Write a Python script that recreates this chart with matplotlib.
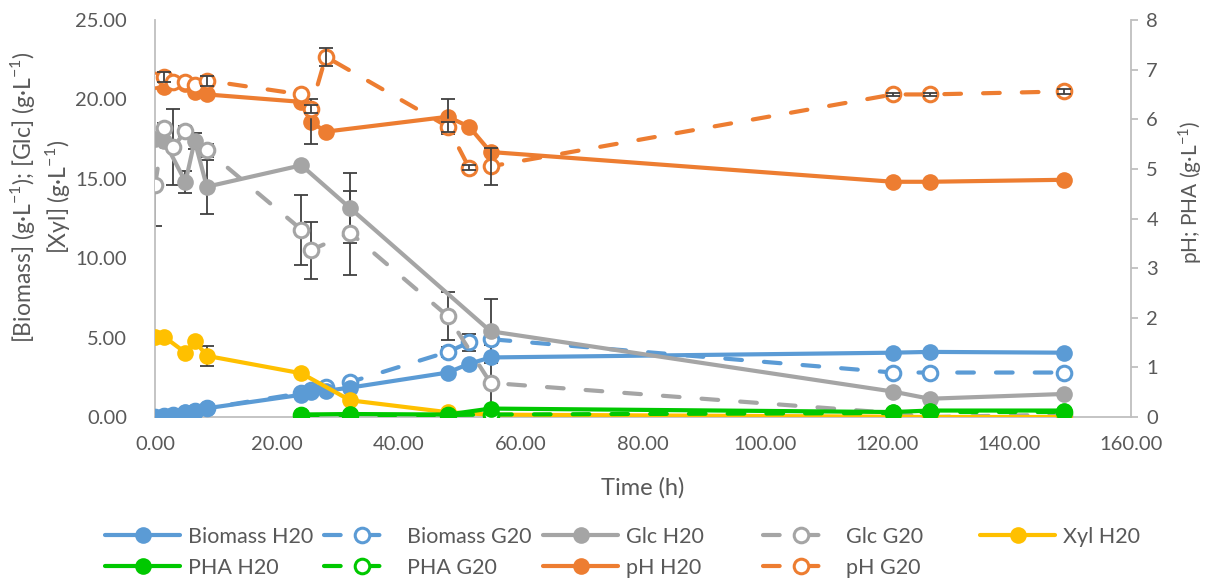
import numpy as np
import matplotlib
matplotlib.use("Agg")
import matplotlib.pyplot as plt
from matplotlib.ticker import FormatStrFormatter

plt.rcParams['font.family'] = ['Lato', 'DejaVu Sans']
plt.rcParams['mathtext.fontset'] = 'custom'
plt.rcParams['mathtext.rm'] = 'Lato'

# ---------------- data ----------------
bio_h_t = [0, 1.5, 3, 5, 6.5, 8.5, 24, 25.5, 28, 32, 48, 51.5, 55, 121, 127, 149]
bio_h = [0.02, 0.05, 0.1, 0.3, 0.4, 0.55, 1.4, 1.55, 1.65, 1.85, 2.8, 3.35, 3.75, 4.05, 4.1, 4.05]
bio_h_err = [0, 0, 0, 0, 0, 0, 0, 0, 0, 0, 0, 0, 0, 0, 0, 0]

bio_g_t = [0, 1.5, 3, 5, 6.5, 8.5, 24, 25.5, 28, 32, 48, 51.5, 55, 121, 127, 149]
bio_g = [0.03, 0.05, 0.1, 0.25, 0.4, 0.55, 1.5, 1.7, 1.9, 2.2, 4.1, 4.7, 4.9, 2.8, 2.8, 2.8]
bio_g_err = [0, 0, 0, 0, 0, 0, 0, 0, 0, 0, 0.3, 0.55, 0, 0.05, 0.05, 0.05]

glc_h_t = [0, 1.5, 5, 6.5, 8.5, 24, 32, 55, 121, 127, 149]
glc_h = [17.5, 17.4, 14.8, 17.4, 14.5, 15.85, 13.15, 5.4, 1.6, 1.15, 1.45]
glc_h_err = [0, 0, 0.7, 0.5, 1.7, 0, 2.2, 2.0, 0, 0, 0]

glc_g_t = [0, 1.5, 3, 5, 8.5, 24, 25.5, 32, 48, 55, 121, 127, 149]
glc_g = [14.6, 18.2, 17.0, 18.0, 16.8, 11.8, 10.5, 11.6, 6.35, 2.15, 0.25, 0.0, 0.15]
glc_g_err = [2.6, 0.3, 2.4, 0.3, 0.4, 2.2, 1.8, 2.65, 1.5, 2.4, 0, 0, 0]

xyl_h_t = [0, 1.5, 5, 6.5, 8.5, 24, 32, 48, 55, 121, 127, 149]
xyl_h = [5.05, 5.05, 4.05, 4.8, 3.85, 2.75, 1.05, 0.3, 0.15, 0.02, 0.0, 0.0]
xyl_h_err = [0, 0, 0, 0, 0.65, 0, 0, 0, 0, 0, 0, 0]

pha_h_t = [24, 32, 48, 55, 121, 127, 149]
pha_h = [0.05, 0.06, 0.05, 0.17, 0.1, 0.13, 0.13]

pha_g_t = [24, 32, 48, 55, 121, 127, 149]
pha_g = [0.04, 0.04, 0.04, 0.05, 0.08, 0.1, 0.1]

ph_h_t = [0, 1.5, 5, 6.5, 8.5, 24, 25.5, 28, 48, 51.5, 55, 121, 127, 149]
ph_h = [6.77, 6.65, 6.72, 6.55, 6.5, 6.35, 5.95, 5.75, 6.05, 5.85, 5.34, 4.74, 4.74, 4.78]
ph_h_err = [0, 0, 0, 0, 0, 0, 0.45, 0, 0.35, 0, 0, 0, 0, 0]

ph_g_t = [0, 1.5, 3, 5, 6.5, 8.5, 24, 25.5, 28, 48, 51.5, 55, 121, 127, 149]
ph_g = [6.8, 6.86, 6.75, 6.75, 6.7, 6.78, 6.5, 6.2, 7.26, 5.85, 5.02, 5.05, 6.5, 6.5, 6.56]
ph_g_err = [0, 0.1, 0, 0, 0, 0.1, 0, 0.08, 0.18, 0.1, 0.05, 0.38, 0.03, 0.03, 0.05]

x_ticks = [0, 20, 40, 60, 80, 100, 120, 140, 160]
y1_ticks = [0, 5, 10, 15, 20, 25]
y2_ticks = [0, 1, 2, 3, 4, 5, 6, 7, 8]

# ---------------- style ----------------
BLUE = '#5B9BD5'
ORANGE = '#ED7D31'
GRAY = '#A5A5A5'
YELLOW = '#FFC000'
GREEN = '#00C800'
TXT = '#595959'
AX = '#BFBFBF'
ERR = '#404040'
LW = 3.0
MS_F = 12
MS_O = 10.5
DASH = (0, (4.0, 5.3))

W, H = 1211, 581
fig = plt.figure(figsize=(W / 100, H / 100), dpi=100)
L, R, T, B = 155, 1131, 20, 417
ax = fig.add_axes([L / W, 1 - B / H, (R - L) / W, (B - T) / H])
ax2 = ax.twinx()


def series(a, t, v, color, filled, err=None, z=3, ez=None):
    ls = '-' if filled else DASH
    kw = dict(color=color, lw=LW, marker='o', ms=MS_F if filled else MS_O,
              mfc=color if filled else 'white', mec=color,
              mew=0 if filled else 2.2, zorder=z, solid_capstyle='round',
              dash_capstyle='round')
    ln, = a.plot(t, v, linestyle=ls, **kw)
    if err is not None:
        t_ = np.asarray(t, float)
        v_ = np.asarray(v, float)
        e_ = np.asarray(err, float)
        m = e_ > 0
        if m.any():
            a.errorbar(t_[m], v_[m], yerr=e_[m], fmt='none', ecolor=ERR,
                       elinewidth=1.3, capsize=5, capthick=1.3,
                       zorder=(z + 0.05) if ez is None else ez)
    return ln


h2 = series(ax, bio_g_t, bio_g, BLUE, False, bio_g_err, 3.0, 2.0)
h1 = series(ax, bio_h_t, bio_h, BLUE, True, bio_h_err, 3.1, 2.0)
h3 = series(ax, glc_h_t, glc_h, GRAY, True, glc_h_err, 3.2, 2.0)
h4 = series(ax, glc_g_t, glc_g, GRAY, False, glc_g_err, 3.3, 2.0)
h5 = series(ax, xyl_h_t, xyl_h, YELLOW, True, xyl_h_err, 3.4, 2.0)
h7 = series(ax2, pha_g_t, pha_g, GREEN, False, None, 3.0)
h6 = series(ax2, pha_h_t, pha_h, GREEN, True, None, 3.1)
h8 = series(ax2, ph_h_t, ph_h, ORANGE, True, ph_h_err, 3.2)
h9 = series(ax2, ph_g_t, ph_g, ORANGE, False, ph_g_err, 3.3)

ax.set_xlim(0, 160)
ax.set_ylim(0, 25)
ax2.set_ylim(0, 8)
ax.set_xticks(x_ticks)
ax.set_yticks(y1_ticks)
ax2.set_yticks(y2_ticks)
ax.xaxis.set_major_formatter(FormatStrFormatter('%.2f'))
ax.yaxis.set_major_formatter(FormatStrFormatter('%.2f'))

FS = 14.5
for a in (ax, ax2):
    for s in a.spines.values():
        s.set_visible(False)
ax.spines['left'].set_visible(True)
ax.spines['bottom'].set_visible(True)
ax2.spines['right'].set_visible(True)
for s in (ax.spines['left'], ax.spines['bottom'], ax2.spines['right']):
    s.set_color(AX)
    s.set_linewidth(1.3)
ax.tick_params(axis='x', length=0, labelsize=FS, labelcolor=TXT, pad=14)
ax.tick_params(axis='y', length=0, labelsize=FS, labelcolor=TXT, pad=20)
ax2.tick_params(axis='y', length=5, width=1.3, color=AX, labelsize=FS,
                labelcolor=TXT, pad=6)

ax.set_xlabel('Time (h)', fontsize=17, color=TXT, labelpad=17)
sup = r'$^{\mathregular{-1}}$'
fig.text(40 / W, 1 - 197 / H,
         '[Biomass] (g·L' + sup + '); [Glc] (g·L' + sup + ')\n[Xyl] (g·L' + sup + ')',
         rotation=90, ha='center', va='center', multialignment='center',
         fontsize=16.5, color=TXT, linespacing=1.3)
fig.text(1190 / W, 1 - 192 / H, 'pH; PHA (g·L' + sup + ')', rotation=90,
         ha='center', va='center', fontsize=15, color=TXT)

cols = [(105, [h1, h6], ['Biomass H20', 'PHA H20']),
        (324, [h2, h7], ['Biomass G20', 'PHA G20']),
        (543, [h3, h8], ['Glc H20', 'pH H20']),
        (763, [h4, h9], ['Glc G20', 'pH G20']),
        (980, [h5], ['Xyl H20'])]
for x0, hs, labs in cols:
    fig.legend(hs, labs, loc='upper left', bbox_to_anchor=(x0 / W, 1 - 527 / H),
               frameon=False, fontsize=15.5, labelcolor=TXT, handlelength=3.5,
               handletextpad=0.35, labelspacing=0.5, borderpad=0, borderaxespad=0)

fig.savefig('out.png', dpi=100)
